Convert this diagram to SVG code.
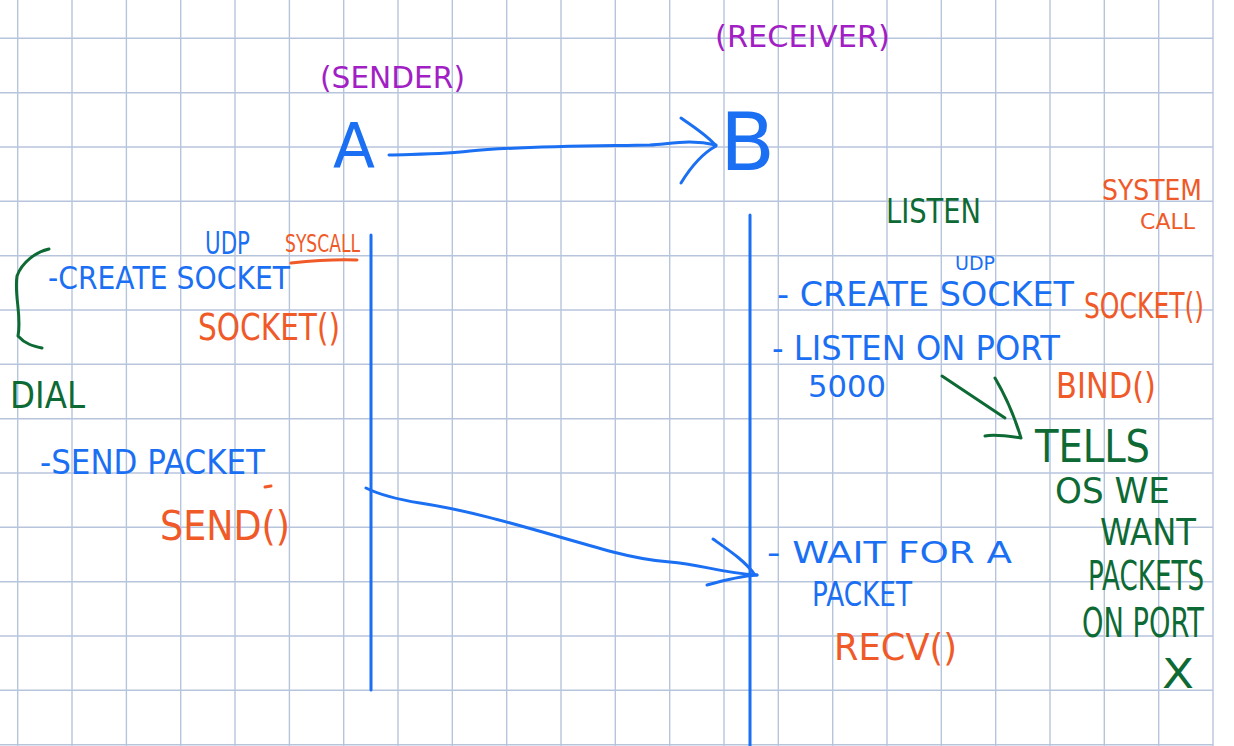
<svg xmlns="http://www.w3.org/2000/svg" width="1234" height="746" viewBox="0 0 1234 746">
  <style>
    text { font-family: "DejaVu Sans", "Liberation Sans", sans-serif; }
    .grid line { stroke: #b7c5dc; stroke-width: 1.4; }
    .blue { fill: #1b6ff3; }
    .orange { fill: #f05a28; }
    .purple { fill: #a11fc4; }
    .green { fill: #0d6a34; }
    .ink { fill: none; stroke-width: 3; stroke-linecap: round; stroke-linejoin: round; }
    .ink-blue { stroke: #1b6ff3; }
    .ink-green { stroke: #0d6a34; }
    .ink-orange { stroke: #f05a28; }
  </style>

  <rect width="1234" height="746" fill="#ffffff"/>

  <!-- graph paper -->
  <g class="grid">
    <line x1="17.7" y1="0" x2="17.7" y2="746"/>
    <line x1="72" y1="0" x2="72" y2="746"/>
    <line x1="126.4" y1="0" x2="126.4" y2="746"/>
    <line x1="180.7" y1="0" x2="180.7" y2="746"/>
    <line x1="235" y1="0" x2="235" y2="746"/>
    <line x1="289.4" y1="0" x2="289.4" y2="746"/>
    <line x1="343.7" y1="0" x2="343.7" y2="746"/>
    <line x1="398" y1="0" x2="398" y2="746"/>
    <line x1="452.3" y1="0" x2="452.3" y2="746"/>
    <line x1="506.7" y1="0" x2="506.7" y2="746"/>
    <line x1="561" y1="0" x2="561" y2="746"/>
    <line x1="615.3" y1="0" x2="615.3" y2="746"/>
    <line x1="669.7" y1="0" x2="669.7" y2="746"/>
    <line x1="724" y1="0" x2="724" y2="746"/>
    <line x1="778.3" y1="0" x2="778.3" y2="746"/>
    <line x1="832.7" y1="0" x2="832.7" y2="746"/>
    <line x1="887" y1="0" x2="887" y2="746"/>
    <line x1="941.3" y1="0" x2="941.3" y2="746"/>
    <line x1="995.7" y1="0" x2="995.7" y2="746"/>
    <line x1="1050" y1="0" x2="1050" y2="746"/>
    <line x1="1104.3" y1="0" x2="1104.3" y2="746"/>
    <line x1="1158.7" y1="0" x2="1158.7" y2="746"/>
    <line x1="1213" y1="0" x2="1213" y2="746"/>
    <line x1="0" y1="38.3" x2="1213" y2="38.3"/>
    <line x1="0" y1="92.7" x2="1213" y2="92.7"/>
    <line x1="0" y1="147" x2="1213" y2="147"/>
    <line x1="0" y1="201.3" x2="1213" y2="201.3"/>
    <line x1="0" y1="255.7" x2="1213" y2="255.7"/>
    <line x1="0" y1="310" x2="1213" y2="310"/>
    <line x1="0" y1="364.3" x2="1213" y2="364.3"/>
    <line x1="0" y1="418.7" x2="1213" y2="418.7"/>
    <line x1="0" y1="473" x2="1213" y2="473"/>
    <line x1="0" y1="527.3" x2="1213" y2="527.3"/>
    <line x1="0" y1="581.7" x2="1213" y2="581.7"/>
    <line x1="0" y1="636" x2="1213" y2="636"/>
    <line x1="0" y1="690.3" x2="1213" y2="690.3"/>
    <line x1="0" y1="744.7" x2="1213" y2="744.7"/>
  </g>

  <!-- sender A -->
  <g id="sender">
    <text class="purple" x="320" y="88" font-size="30" textLength="145" lengthAdjust="spacingAndGlyphs">(SENDER)</text>
    <text class="blue" x="333" y="168" font-size="62" textLength="42" lengthAdjust="spacingAndGlyphs">A</text>
    <line class="ink ink-blue" x1="371" y1="235" x2="371" y2="690"/>
  </g>

  <!-- receiver B -->
  <g id="receiver">
    <text class="purple" x="715" y="47" font-size="30" textLength="175" lengthAdjust="spacingAndGlyphs">(RECEIVER)</text>
    <text class="blue" x="720" y="170" font-size="80" textLength="55" lengthAdjust="spacingAndGlyphs">B</text>
    <line class="ink ink-blue" x1="750" y1="215" x2="750" y2="746"/>
  </g>

  <!-- sender steps -->
  <g id="sender-notes">
    <text class="blue" x="205" y="254" font-size="32" textLength="45" lengthAdjust="spacingAndGlyphs">UDP</text>
    <text class="orange" x="285" y="252" font-size="24" textLength="75" lengthAdjust="spacingAndGlyphs">SYSCALL</text>
    <path class="ink ink-orange" d="M291,263 C 310,261 335,259 357,260" stroke-width="2.5"/>
    <text class="blue" x="48" y="289" font-size="32" textLength="242" lengthAdjust="spacingAndGlyphs">-CREATE SOCKET</text>
    <text class="orange" x="198" y="340" font-size="38" textLength="142" lengthAdjust="spacingAndGlyphs">SOCKET()</text>
    <path class="ink ink-green" d="M49,249 C 36,252 22,262 17,276 C 14,296 22,316 18,336 C 25,344 33,346 42,348" stroke-width="3.5"/>
    <text class="green" x="10" y="408" font-size="38" textLength="75" lengthAdjust="spacingAndGlyphs">DIAL</text>
    <text class="blue" x="40" y="474" font-size="34" textLength="225" lengthAdjust="spacingAndGlyphs">-SEND PACKET</text>
    <line class="ink ink-orange" x1="265" y1="487" x2="271" y2="486" stroke-width="2.5"/>
    <text class="orange" x="160" y="540" font-size="40" textLength="130" lengthAdjust="spacingAndGlyphs">SEND()</text>
  </g>

  <!-- receiver steps -->
  <g id="receiver-notes">
    <text class="green" x="886" y="223" font-size="34" textLength="95" lengthAdjust="spacingAndGlyphs">LISTEN</text>
    <text class="orange" x="1102" y="200" font-size="28" textLength="100" lengthAdjust="spacingAndGlyphs">SYSTEM</text>
    <text class="orange" x="1140" y="229" font-size="22" textLength="55" lengthAdjust="spacingAndGlyphs">CALL</text>
    <text class="blue" x="955" y="270" font-size="20" textLength="40" lengthAdjust="spacingAndGlyphs">UDP</text>
    <text class="blue" x="777" y="306" font-size="34" textLength="297" lengthAdjust="spacingAndGlyphs">- CREATE SOCKET</text>
    <text class="orange" transform="translate(1084,318) scale(1,1.44)" font-size="25" textLength="120" lengthAdjust="spacingAndGlyphs">SOCKET()</text>
    <text class="blue" x="772" y="360" font-size="34" textLength="288" lengthAdjust="spacingAndGlyphs">- LISTEN ON PORT</text>
    <text class="blue" x="808" y="397" font-size="30" textLength="78" lengthAdjust="spacingAndGlyphs">5000</text>
    <text class="orange" x="1056" y="398" font-size="36" textLength="100" lengthAdjust="spacingAndGlyphs">BIND()</text>
    <text class="blue" x="767" y="563" font-size="30" textLength="245" lengthAdjust="spacingAndGlyphs">- WAIT FOR A</text>
    <text class="blue" x="812" y="606" font-size="34" textLength="100" lengthAdjust="spacingAndGlyphs">PACKET</text>
    <text class="orange" x="834" y="660" font-size="38" textLength="123" lengthAdjust="spacingAndGlyphs">RECV()</text>
  </g>

  <!-- bind explanation -->
  <g id="bind-note">
    <text class="green" x="1035" y="462" font-size="44" textLength="115" lengthAdjust="spacingAndGlyphs">TELLS</text>
    <text class="green" x="1055" y="503" font-size="36" textLength="115" lengthAdjust="spacingAndGlyphs">OS WE</text>
    <text class="green" x="1100" y="545" font-size="38" textLength="96" lengthAdjust="spacingAndGlyphs">WANT</text>
    <text class="green" transform="translate(1088,590) scale(1,1.6)" font-size="25" textLength="116" lengthAdjust="spacingAndGlyphs">PACKETS</text>
    <text class="green" transform="translate(1082,637) scale(1,1.54)" font-size="26" textLength="122" lengthAdjust="spacingAndGlyphs">ON PORT</text>
    <text class="green" x="1162" y="688" font-size="40" textLength="32" lengthAdjust="spacingAndGlyphs">X</text>
  </g>

  <!-- connectors -->
  <g id="connectors">
    <!-- A to B -->
    <path class="ink ink-blue" d="M389,155 C 420,154 450,154 470,151 C 520,146 600,146 650,145 C 670,144 690,139 716,145"/>
    <path class="ink ink-blue" d="M681,118 C 695,128 708,136 716,146 C 705,152 692,165 681,183"/>
    <!-- packet sent from A to B -->
    <path class="ink ink-blue" d="M366,488 C 380,495 395,499 420,503 C 480,512 540,532 613,552 C 640,559 655,561 670,562 C 700,564 720,573 757,575"/>
    <path class="ink ink-blue" d="M713,539 C 730,551 745,561 755,575 M707,585 C 725,580 742,576 757,575"/>
    <!-- bind points to explanation -->
    <path class="ink ink-green" d="M942,376 L1005,418"/>
    <path class="ink ink-green" d="M995,378 C 1005,395 1015,418 1021,438 C 1008,436 995,434 985,436"/>
  </g>
</svg>
